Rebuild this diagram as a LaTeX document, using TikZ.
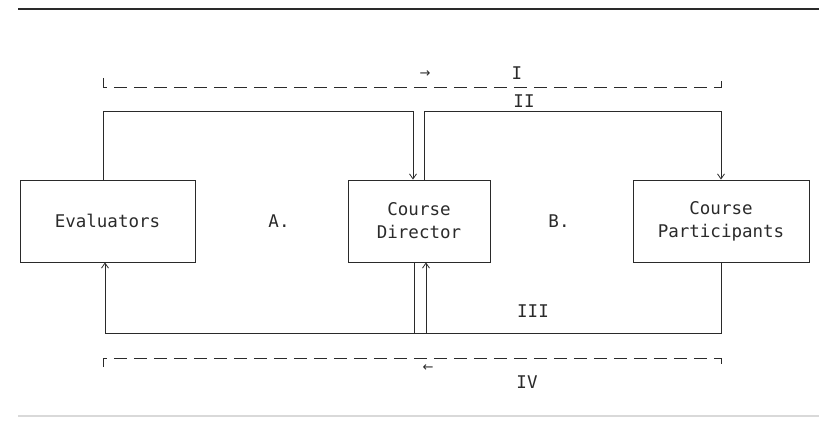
\documentclass[tikz,border=0pt]{standalone}
\usepackage{fontspec}
\setmonofont{DejaVu Sans Mono}
\newfontfamily\symfont{DejaVu Sans}
\usetikzlibrary{arrows.meta}
\definecolor{ink}{HTML}{2A2A2A}
\tikzset{
  every node/.style={font=\ttfamily\fontsize{17.5}{23}\selectfont, text=ink},
  boxnode/.style={draw=ink, line width=0.9pt, minimum height=82pt, inner sep=0pt, align=center},
  link/.style={draw=ink, line width=0.9pt},
  tip/.style={-{Straight Barb[length=5pt,width=7pt,line width=0.8pt]}},
  dashline/.style={draw=ink, line width=0.9pt, dash pattern=on 13pt off 7pt},
  lab/.style={inner sep=0pt},
  arrlab/.style={inner sep=0pt, font=\symfont\fontsize{13}{13}\selectfont},
}
\begin{document}
\begin{tikzpicture}[x=1pt,y=-1pt]
\useasboundingbox (0,0) rectangle (819,422);
% rules
\draw[ink, line width=1.8pt] (18,9) -- (819,9);
\draw[black!15, line width=1.2pt] (18,416) -- (819,416);

% boxes
\node[boxnode, minimum width=175pt] (eval) at (107.5,221) {Evaluators};
\node[boxnode, minimum width=142pt] (dir) at (419,221) {Course\\Director};
\node[boxnode, minimum width=176pt] (part) at (721,221) {Course\\Participants};

% coordinates
\coordinate (tL) at (103,111);
\coordinate (tR) at (721,111);
\coordinate (bL) at (105,333);
\coordinate (bR) at (721,333);
\coordinate (dL) at (103,87);
\coordinate (dR) at (721,87);
\coordinate (eL) at (103,358);
\coordinate (eR) at (721,358);

% top solid loops (II)
\draw[link, tip] (eval.north -| tL) -- (tL) -- (tL -| {413,0}) -- ([xshift=-6pt]dir.north);
\draw[link, tip] ([xshift=5pt]dir.north) |- (tR) -- (part.north -| tR);

% bottom solid loops (III)
\draw[link, tip] ([xshift=-5pt]dir.south) -- ([xshift=-5pt]dir.south |- bL) -- (bL) -- (eval.south -| bL);
\draw[link, tip] (part.south -| bR) -- (bR) -- ([xshift=7pt]dir.south |- bR) -- ([xshift=7pt]dir.south);
\draw[link] ([xshift=-5pt]dir.south |- bL) -- ([xshift=7pt]dir.south |- bL);

% dashed loops (I, IV)
\draw[dashline] ([yshift=9pt]dL) -- (dL) -- (dR) -- ([yshift=9pt]dR);
\draw[dashline] ([yshift=-9pt]eL) -- (eL) -- (eR) -- ([yshift=-9pt]eR);

% labels
\node[arrlab] (arrI) at (425,74) {→};
\node[lab] (lI) at (517,73) {I};
\node[lab] (lII) at (524,101) {II};
\node[lab] (lA) at (279,221) {A.};
\node[lab] (lB) at (559,221) {B.};
\node[lab] (lIII) at (533,311) {III};
\node[arrlab] (arrIV) at (428,368) {←};
\node[lab] (lIV) at (527,382) {IV};
\end{tikzpicture}
\end{document}
